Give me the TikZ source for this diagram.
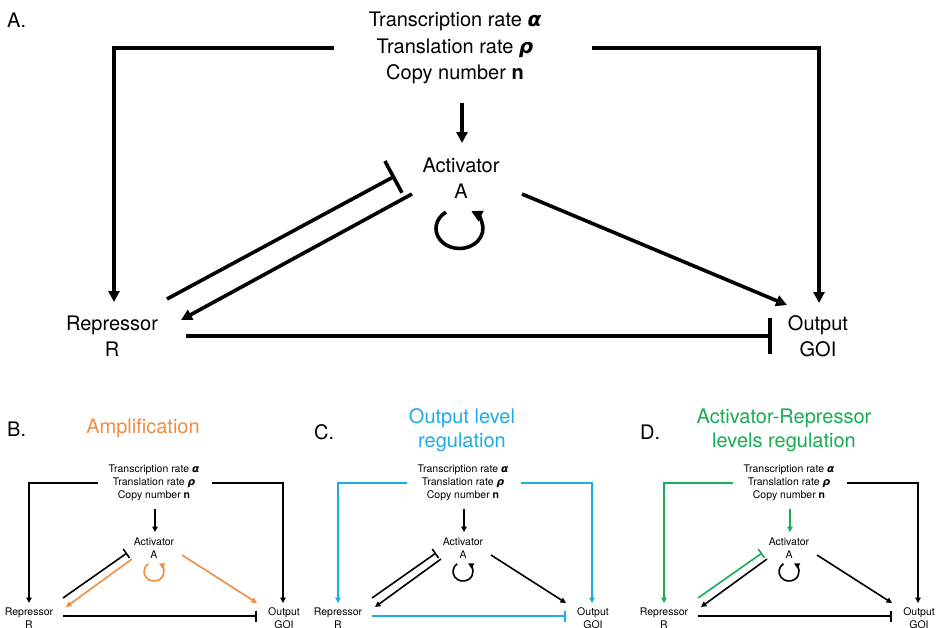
\documentclass[tikz,border=0pt]{standalone}
\usepackage{fontspec}
\setmainfont{TeX Gyre Heros}
\newfontfamily\greekfont{DejaVu Sans}
\newcommand{\grk}[1]{{\greekfont\bfseries\itshape #1}}
\usetikzlibrary{arrows.meta,calc}
\definecolor{ampc}{RGB}{242,140,64}
\definecolor{outc}{RGB}{30,172,230}
\definecolor{arrc}{RGB}{24,172,84}

% one small network: #1 centre x, #2 name prefix, #3 edge style overrides
\newcommand{\minipanel}[3]{%
\begin{scope}[#3]
  \node[smalltxt] (#2top) at (#1,483) {Transcription rate \grk{α}\\Translation rate \grk{ρ}\\Copy number \textbf{n}};
  \node[smalltxt] (#2act) at (#1,548) {Activator\\A};
  \node[smalltxt] (#2rep) at (#1-125,618) {Repressor\\R};
  \node[smalltxt] (#2goi) at (#1+130,618) {Output\\GOI};
  \draw[eL] ($(#2top)+(-56,0)$) -| ($(#2rep)+(0,-15)$);
  \draw[eR] ($(#2top)+(58,0)$) -| ($(#2goi)+(-1,-15)$);
  \draw[eD] ($(#2top)+(1,26)$) -- ($(#2act)+(1,-16)$);
  \draw[eI] ($(#2rep)+(34,-20)$) -- ($(#2act)+(-27,5)$);
  \draw[eAR] ($(#2act)+(-22,11)$) -- ($(#2rep)+(37,-11)$);
  \draw[eAG] ($(#2act)+(28,7)$) -- ($(#2goi)+(-27,-15)$);
  \draw[eRG] ($(#2rep)+(34,-2)$) -- ($(#2goi)+(-27,-2)$);
  \draw[eLoop] ($(#2act)+(-5.7,15.8)$) arc[start angle=-125,end angle=-420,x radius=10,y radius=9.5];
\end{scope}}

\tikzset{
  lbl/.style={inner sep=0pt, align=center, text=black},
  bigtxt/.style={lbl, font=\fontsize{20}{26.5}\selectfont},
  smalltxt/.style={lbl, font=\fontsize{10.5}{12.8}\selectfont},
  paneltitle/.style={inner sep=0pt, align=center, font=\fontsize{20}{24}\selectfont},
  letter/.style={inner sep=0pt, anchor=west, font=\fontsize{20}{24}\selectfont},
  bigline/.style={line width=3.6pt},
  bigact/.style={bigline, -{Triangle[length=11pt,width=11pt]}},
  bigrep/.style={bigline, -{Bar[width=36pt]}},
  smline/.style={line width=1.6pt},
  smact/.style={smline, -{Triangle[length=5.5pt,width=5.5pt]}},
  smrep/.style={smline, -{Bar[width=11pt]}},
  eL/.style={smact}, eR/.style={smact}, eD/.style={smact}, eI/.style={smrep},
  eAR/.style={smact}, eAG/.style={smact}, eLoop/.style={smact}, eRG/.style={smrep},
}

\begin{document}
\begin{tikzpicture}[x=1pt,y=-1pt]
\useasboundingbox (0,0) rectangle (936,627);
\fill[white] (0,0) rectangle (936,627);

% ---- panel A ----
\node[letter] (la) at (7,20) {A.};
\node[bigtxt] (ptop) at (455,48) {Transcription rate \grk{α}\\Translation rate \grk{ρ}\\Copy number \textbf{n}};
\node[bigtxt] (act) at (461,178) {Activator\\A};
\node[bigtxt] (rep) at (112,336) {Repressor\\R};
\node[bigtxt] (goi) at (818,336) {Output\\GOI};

\draw[bigact] ($(ptop)+(-121,0)$) -| ($(rep)+(2,-34)$);
\draw[bigact] ($(ptop)+(137,0)$) -| ($(goi)+(1,-33)$);
\draw[bigact] ($(ptop)+(7,55)$) -- ($(act)+(1,-35)$);
\draw[bigrep] ($(rep)+(55,-37)$) -- ($(act)+(-66,-2)$);
\draw[bigact] ($(act)+(-49,16)$) -- ($(rep)+(69,-16)$);
\draw[bigact] ($(act)+(61,16)$) -- ($(goi)+(-31,-31)$);
\draw[bigrep] ($(rep)+(74,0)$) -- ($(goi)+(-46,0)$);
\draw[bigact] ($(act)+(-15,34.1)$) arc[start angle=-125,end angle=-420,x radius=23.5,y radius=20];

% ---- panel B: amplification ----
\node[letter] (lb) at (7,429) {B.};
\node[paneltitle, text=ampc] (tb) at (143,428) {Amplification};
\minipanel{154}{b}{eAR/.append style={color=ampc}, eAG/.append style={color=ampc}, eLoop/.append style={color=ampc}}

% ---- panel C: output level regulation ----
\node[letter] (lc) at (314,432) {C.};
\node[paneltitle, text=outc] (tc) at (462,430) {Output level\\regulation};
\minipanel{463}{c}{eL/.append style={color=outc}, eR/.append style={color=outc}, eRG/.append style={color=outc}}

% ---- panel D: activator-repressor levels regulation ----
\node[letter] (ld) at (640,432) {D.};
\node[paneltitle, text=arrc] (td) at (784,430) {Activator-Repressor\\levels regulation};
\minipanel{789}{d}{eL/.append style={color=arrc}, eD/.append style={color=arrc}, eI/.append style={color=arrc}}

\end{tikzpicture}
\end{document}
